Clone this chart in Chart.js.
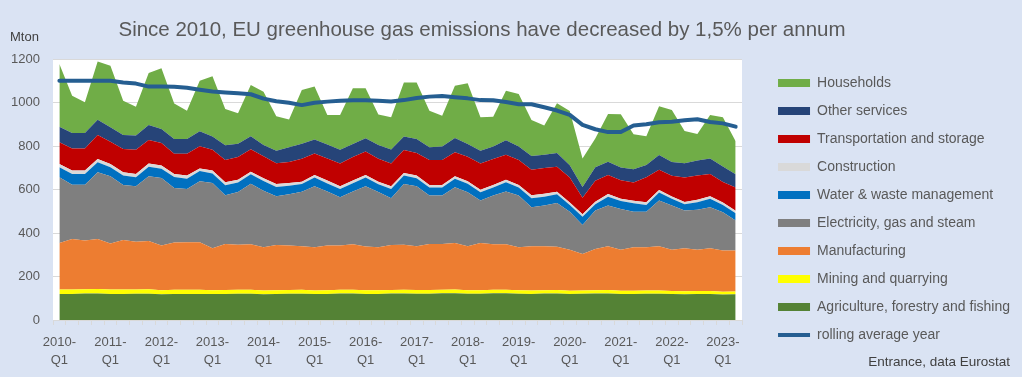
<!DOCTYPE html>
<html>
<head>
<meta charset="utf-8">
<script src="https://cdn.jsdelivr.net/npm/chart.js@4.4.0/dist/chart.umd.min.js"></script>
<style>
  html, body { margin: 0; padding: 0; background: #dae3f3; }
  #wrap { position: relative; width: 1022px; height: 377px; font-family: "Liberation Sans", Arial, sans-serif; }
  #myChart { position: absolute; left: 0; top: 0; }
  #title { position: absolute; left: 0; width: 964px; top: 17px; text-align: center; font-size: 20.5px; color: #595959; }
  #unit { position: absolute; left: 10px; top: 29px; font-size: 13px; color: #404040; }
  #source { position: absolute; right: 12px; top: 354px; font-size: 13.5px; color: #404040; }
</style>
</head>
<body>
<div id="wrap">
  <canvas id="myChart" width="1022" height="377"></canvas>
  <div id="title">Since 2010, EU greenhouse gas emissions have decreased by 1,5% per annum</div>
  <div id="unit">Mton</div>
  <div id="source">Entrance, data Eurostat</div>
</div>
<script>
// quarters 2010-Q1 .. 2023-Q2
const quarters = [
  "2010-Q1", "2010-Q2", "2010-Q3", "2010-Q4", "2011-Q1", "2011-Q2", "2011-Q3", "2011-Q4",
  "2012-Q1", "2012-Q2", "2012-Q3", "2012-Q4", "2013-Q1", "2013-Q2", "2013-Q3", "2013-Q4",
  "2014-Q1", "2014-Q2", "2014-Q3", "2014-Q4", "2015-Q1", "2015-Q2", "2015-Q3", "2015-Q4",
  "2016-Q1", "2016-Q2", "2016-Q3", "2016-Q4", "2017-Q1", "2017-Q2", "2017-Q3", "2017-Q4",
  "2018-Q1", "2018-Q2", "2018-Q3", "2018-Q4", "2019-Q1", "2019-Q2", "2019-Q3", "2019-Q4",
  "2020-Q1", "2020-Q2", "2020-Q3", "2020-Q4", "2021-Q1", "2021-Q2", "2021-Q3", "2021-Q4",
  "2022-Q1", "2022-Q2", "2022-Q3", "2022-Q4", "2023-Q1", "2023-Q2",
];

// Mton per quarter
const agriculture = [120, 119, 122, 122, 120, 119, 121, 121, 118, 119, 120, 120, 119, 119, 121, 121, 118, 119, 121, 121, 119, 119, 122, 122, 120, 120, 122, 122, 121, 121, 123, 123, 121, 121, 123, 123, 121, 120, 122, 122, 120, 121, 122, 122, 120, 120, 121, 121, 119, 118, 119, 119, 117, 118];
const mining = [20, 21, 19, 20, 20, 21, 19, 20, 19, 20, 19, 19, 18, 19, 18, 18, 18, 18, 17, 18, 17, 18, 17, 17, 17, 17, 16, 17, 17, 17, 16, 17, 16, 16, 16, 16, 16, 16, 15, 16, 15, 15, 15, 16, 15, 15, 15, 15, 14, 14, 14, 14, 13, 13];
const manufacturing = [214, 232, 224, 230, 212, 228, 220, 222, 205, 217, 219, 219, 193, 211, 207, 209, 198, 208, 204, 200, 199, 205, 204, 209, 201, 197, 207, 207, 201, 211, 210, 214, 202, 217, 209, 209, 197, 203, 202, 199, 188, 167, 189, 201, 188, 199, 198, 203, 190, 198, 190, 197, 189, 188];
const electricity = [302, 250, 257, 307, 309, 253, 255, 298, 311, 251, 244, 280, 300, 225, 242, 279, 260, 224, 236, 251, 280, 249, 221, 243, 277, 254, 215, 279, 276, 223, 223, 256, 248, 195, 224, 243, 238, 179, 187, 201, 175, 134, 177, 187, 187, 164, 164, 210, 203, 173, 184, 188, 176, 138];
const water = [46, 49, 49, 46, 41, 43, 41, 44, 42, 50, 48, 47, 44, 46, 44, 43, 45, 43, 39, 35, 40, 37, 38, 38, 40, 36, 42, 39, 37, 37, 37, 39, 39, 38, 37, 42, 37, 42, 41, 40, 31, 38, 29, 41, 37, 39, 31, 37, 31, 29, 34, 39, 34, 34];
const construction = [15, 16, 16, 15, 15, 15, 15, 15, 15, 14, 14, 12, 13, 13, 13, 12, 13, 13, 13, 11, 12, 13, 13, 12, 12, 12, 13, 12, 12, 12, 12, 12, 12, 12, 12, 12, 12, 13, 13, 12, 11, 11, 12, 12, 11, 11, 12, 12, 11, 11, 12, 12, 11, 11];
const transport = [100, 102, 102, 111, 103, 107, 112, 108, 104, 93, 100, 102, 96, 103, 105, 103, 101, 96, 97, 105, 99, 102, 105, 109, 108, 105, 105, 106, 104, 115, 115, 110, 113, 121, 119, 115, 115, 118, 119, 115, 115, 76, 96, 88, 85, 84, 115, 93, 95, 112, 111, 102, 95, 107];
const otherServices = [72, 71, 71, 70, 66, 65, 65, 69, 64, 68, 68, 69, 61, 67, 60, 60, 52, 57, 67, 69, 64, 64, 63, 59, 61, 64, 64, 62, 64, 58, 62, 66, 58, 58, 58, 66, 62, 63, 61, 63, 57, 50, 62, 61, 58, 61, 57, 68, 64, 66, 69, 72, 71, 61];
const households = [288, 171, 141, 267, 283, 157, 133, 239, 279, 163, 130, 232, 277, 167, 141, 235, 244, 159, 128, 248, 243, 136, 160, 257, 230, 140, 148, 248, 260, 168, 141, 240, 279, 154, 137, 228, 241, 165, 134, 228, 249, 131, 132, 219, 245, 161, 132, 224, 239, 148, 122, 200, 226, 152];
const rollingAvg = [1100, 1100, 1100, 1100, 1100, 1092, 1087, 1073, 1073, 1072, 1068, 1059, 1051, 1046, 1042, 1038, 1018, 1006, 999, 988, 999, 1004, 1008, 1010, 1010, 1008, 1005, 1011, 1021, 1027, 1030, 1024, 1019, 1011, 1010, 1002, 992, 992, 978, 963, 943, 897, 877, 864, 864, 894, 900, 909, 912, 918, 923, 910, 904, 889];

const layers = [
  ["Agriculture, forestry and fishing", agriculture, "#548235"],
  ["Mining and quarrying", mining, "#ffff00"],
  ["Manufacturing", manufacturing, "#ed7d31"],
  ["Electricity, gas and steam", electricity, "#7f7f7f"],
  ["Water & waste management", water, "#0070c0"],
  ["Construction", construction, "#d9d9d9"],
  ["Transportation and storage", transport, "#c00000"],
  ["Other services", otherServices, "#264478"],
  ["Households", households, "#70ad47"],
];

const datasets = layers.map(([label, data, color], i) => ({
  label: label,
  data: data,
  backgroundColor: color,
  borderColor: color,
  borderWidth: 0,
  pointRadius: 0,
  pointBorderWidth: 0,
  pointStyle: "rect",
  fill: i === 0 ? "origin" : "-1",
}));

datasets.push({
  label: "rolling average year",
  data: rollingAvg,
  stack: "avg",
  order: -1,
  borderColor: "#255e91",
  backgroundColor: "#255e91",
  borderWidth: 4,
  pointRadius: 0,
  pointBorderWidth: 4,
  pointStyle: "line",
  borderJoinStyle: "round",
  borderCapStyle: "round",
  fill: false,
});

const plotBackground = {
  id: "plotBackground",
  beforeDraw(chart) {
    const { ctx, chartArea } = chart;
    ctx.save();
    ctx.fillStyle = "#ffffff";
    ctx.fillRect(chartArea.left, chartArea.top, chartArea.right - chartArea.left, chartArea.bottom - chartArea.top);
    ctx.restore();
  },
};

Chart.defaults.font.family = '"Liberation Sans", Arial, sans-serif';
Chart.defaults.color = "#595959";

new Chart("myChart", {
  type: "line",
  data: {
    labels: quarters,
    datasets: datasets,
  },
  options: {
    responsive: false,
    animation: false,
    layout: {
      padding: { top: 59, bottom: 0, left: 0, right: 2 },
    },
    plugins: {
      legend: {
        position: "right",
        align: "start",
        reverse: true,
        maxWidth: 300,
        title: {
          display: true,
          text: "",
          font: { size: 1, lineHeight: 1 },
          padding: { top: 1, bottom: 1 },
        },
        labels: {
          usePointStyle: true,
          pointStyleWidth: 32,
          boxHeight: 8,
          padding: 14,
          color: "#595959",
          font: { size: 14 },
        },
      },
      tooltip: { enabled: false },
    },
    scales: {
      x: {
        offset: true,
        grid: {
          offset: true,
          drawOnChartArea: false,
          drawTicks: true,
          tickLength: 5,
          color: "#d9d9d9",
        },
        border: { color: "#d9d9d9" },
        ticks: {
          autoSkip: false,
          maxRotation: 0,
          padding: 8,
          color: "#595959",
          font: { size: 13, lineHeight: 1.4 },
          callback: function (value) {
            const lab = this.getLabelForValue(value);
            return lab.endsWith("Q1") ? [lab.slice(0, 5), "Q1"] : "";
          },
        },
        afterFit: (s) => { s.height = 57; },
      },
      y: {
        stacked: true,
        min: 0,
        max: 1200,
        ticks: {
          stepSize: 200,
          padding: 13,
          color: "#595959",
          font: { size: 13 },
          callback: (v) => String(v),
        },
        grid: { color: "#d9d9d9", drawTicks: false },
        border: { display: false },
        afterFit: (s) => { s.width = 53; },
      },
      gap: {
        position: "right",
        display: true,
        grid: { display: false },
        ticks: { display: false },
        border: { display: false },
        afterFit: (s) => { s.width = 22; },
      },
    },
  },
  plugins: [plotBackground],
});
</script>
</body>
</html>
